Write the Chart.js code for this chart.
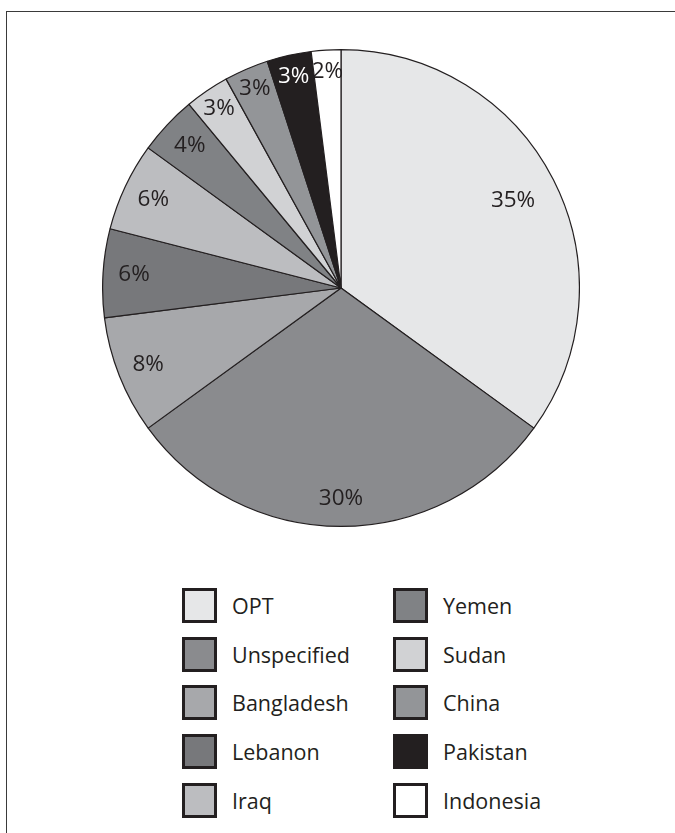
<!DOCTYPE html>
<html>
<head>
<meta charset="utf-8">
<script src="https://cdn.jsdelivr.net/npm/chart.js@4/dist/chart.umd.min.js"></script>
<style>
  html, body { margin: 0; padding: 0; background: #fff; overflow: hidden; }
  body { width: 675px; height: 833px; position: relative; font-family: "Open Sans", "DejaVu Sans", sans-serif; color: #231f20; }
  #frame { position: absolute; left: 6px; top: 11px; width: 700px; height: 900px; border-top: 1.5px solid #3a3a3a; border-left: 1.5px solid #3a3a3a; }
  #pieBox { position: absolute; left: 102px; top: 49px; width: 478px; height: 478px; }
  #legend { position: absolute; left: 182px; top: 581px; display: grid; grid-template-columns: 211px 200px; grid-template-rows: repeat(5, 48.7px); grid-auto-flow: column; }
  .item { display: flex; align-items: center; font-size: 21.5px; }
  .swatch { width: 29px; height: 29px; border: 3px solid #231f20; margin-right: 15px; flex: none; }
</style>
</head>
<body>
<div id="frame"></div>
<div id="pieBox"><canvas id="pie"></canvas></div>
<div id="legend"></div>
<script>
// datos del gráfico
const paises = ["OPT", "Unspecified", "Bangladesh", "Lebanon", "Iraq", "Yemen", "Sudan", "China", "Pakistan", "Indonesia"];
const porcentajes = [35, 30, 8, 6, 6, 4, 3, 3, 3, 2];
const colores = ["#e6e7e8", "#8a8b8e", "#a7a8ab", "#77787b", "#bcbdc0", "#808285", "#d1d2d4", "#939598", "#231f20", "#ffffff"];
const coloresTexto = ["#231f20", "#231f20", "#231f20", "#231f20", "#231f20", "#231f20", "#231f20", "#231f20", "#ffffff", "#231f20"];

// etiquetas de porcentaje dentro de cada porción
const etiquetasPlugin = {
    id: "etiquetas",
    afterDatasetsDraw(chart) {
        const ctx = chart.ctx;
        const meta = chart.getDatasetMeta(0);
        ctx.save();
        ctx.font = '22.5px "Open Sans", "DejaVu Sans", sans-serif';
        ctx.textAlign = "center";
        ctx.textBaseline = "middle";
        meta.data.forEach((arc, i) => {
            const p = arc.getProps(["x", "y", "startAngle", "endAngle", "outerRadius"], true);
            const mid = (p.startAngle + p.endAngle) / 2;
            let f = 0.87;
            if (porcentajes[i] >= 35) f = 0.81;
            else if (porcentajes[i] >= 30) f = 0.885;
            else if (porcentajes[i] <= 3) f = 0.91;
            const r = p.outerRadius * f;
            ctx.fillStyle = coloresTexto[i];
            ctx.fillText(porcentajes[i] + "%", p.x + Math.cos(mid) * r, p.y + Math.sin(mid) * r);
        });
        ctx.restore();
    }
};

new Chart(document.getElementById("pie").getContext("2d"), {
    type: "pie",
    data: {
        labels: paises,
        datasets: [{
            data: porcentajes,
            backgroundColor: colores,
            borderColor: "#231f20",
            borderWidth: 1.2
        }]
    },
    options: {
        responsive: true,
        maintainAspectRatio: false,
        animation: false,
        plugins: {
            legend: { display: false },
            tooltip: { enabled: false }
        }
    },
    plugins: [etiquetasPlugin]
});

// leyenda en dos columnas
const legend = document.getElementById("legend");
paises.forEach((pais, i) => {
    const item = document.createElement("div");
    item.className = "item";
    item.innerHTML = `<span class="swatch" style="background:${colores[i]}"></span><span>${pais}</span>`;
    legend.appendChild(item);
});
</script>
</body>
</html>
